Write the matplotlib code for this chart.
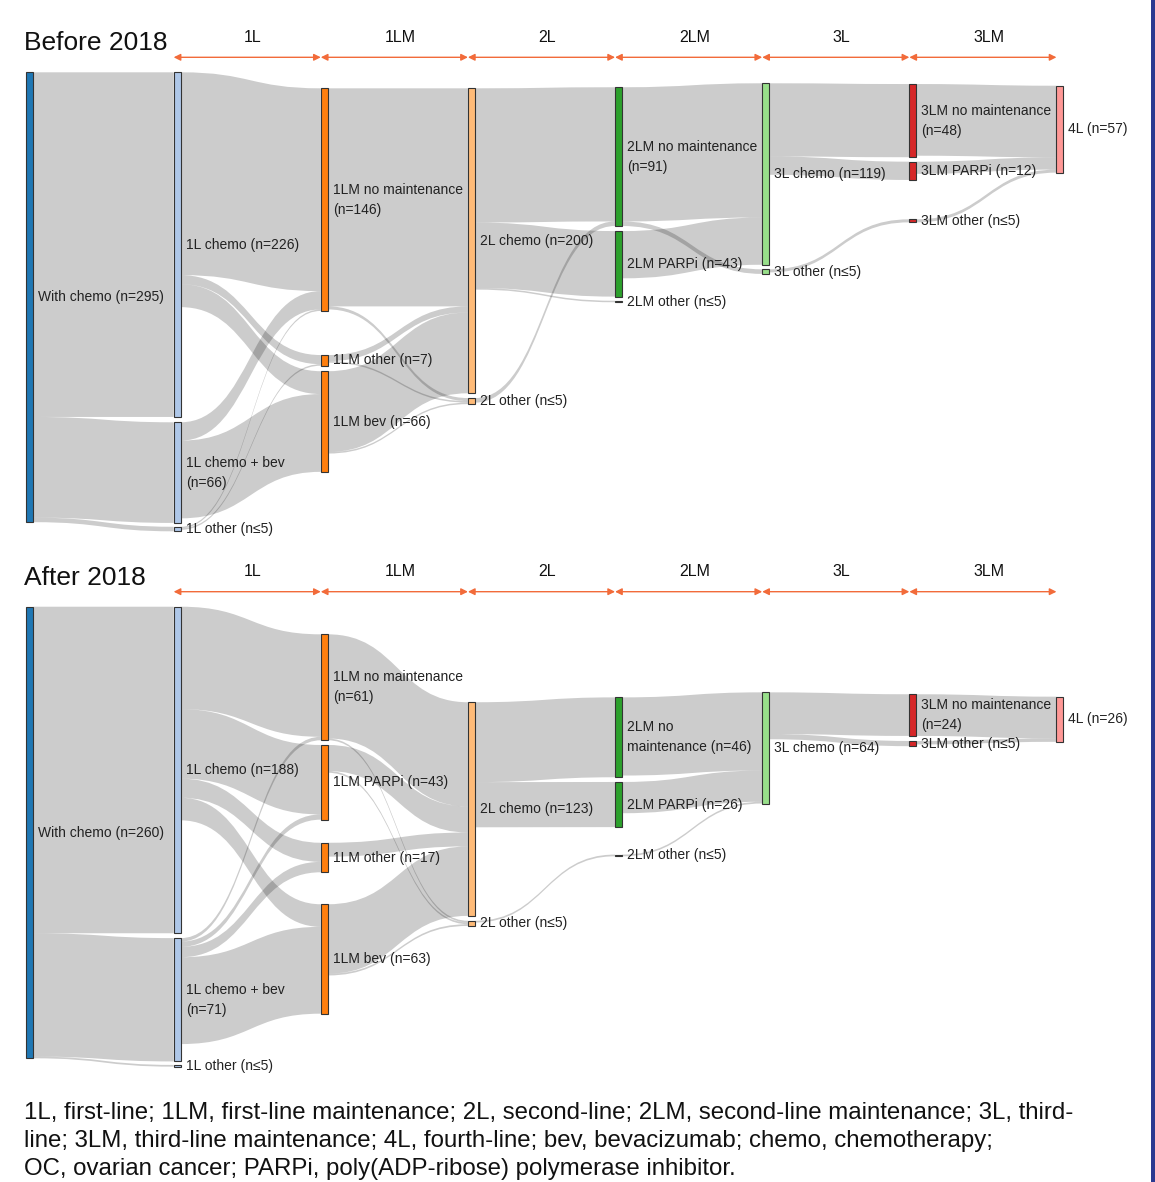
import matplotlib
matplotlib.use("Agg")
import matplotlib.pyplot as plt
from matplotlib.path import Path
from matplotlib.patches import PathPatch, Rectangle

W, H = 1155, 1182

# columns / header text
col_colors = ['#1f77b4', '#aec7e8', '#ff7f0e', '#ffbb78', '#2ca02c', '#98df8a', '#d62728', '#ff9896']
stage_labels = ['1L', '1LM', '2L', '2LM', '3L', '3LM']

# ---- Before 2018 ----
before_labels = ["With chemo (n=295)", "1L chemo (n=226)", "1L chemo + bev\n(n=66)", "1L other (n≤5)",
                 "1LM no maintenance\n(n=146)", "1LM other (n=7)", "1LM bev (n=66)",
                 "2L chemo (n=200)", "2L other (n≤5)",
                 "2LM no maintenance\n(n=91)", "2LM PARPi (n=43)", "2LM other (n≤5)",
                 "3L chemo (n=119)", "3L other (n≤5)",
                 "3LM no maintenance\n(n=48)", "3LM PARPi (n=12)", "3LM other (n≤5)",
                 "4L (n=57)"]
before_cols = [0, 1, 1, 1, 2, 2, 2, 3, 3, 4, 4, 4, 5, 5, 6, 6, 6, 7]
before_src = [0, 0, 0, 1, 1, 1, 2, 2, 3, 3, 4, 4, 5, 5, 6, 6, 7, 7, 7, 8, 9, 9, 10, 12, 12, 13, 14, 15, 16]
before_tgt = [1, 2, 3, 4, 5, 6, 4, 6, 4, 5, 7, 8, 7, 8, 7, 8, 9, 10, 11, 9, 12, 13, 12, 14, 15, 16, 17, 17, 17]
before_val = [226, 66, 3, 133, 6, 15, 12, 51, 1, 1, 143, 2, 4, 1, 53, 1, 88, 43, 1, 3, 88, 3, 31, 48, 12, 2, 47, 8, 2]
# node tops (layout, in patients from top of panel)
before_tops = [0, 0, 229.5, 298, 10.5, 185.4, 196, 10.5, 213.6, 9.8, 104.1, 149.8, 7.2, 129.2, 7.7, 58.6, 96.4, 8.8]

# ---- After 2018 ----
after_labels = ["With chemo (n=260)", "1L chemo (n=188)", "1L chemo + bev\n(n=71)", "1L other (n≤5)",
                "1LM no maintenance\n(n=61)", "1LM PARPi (n=43)", "1LM other (n=17)", "1LM bev (n=63)",
                "2L chemo (n=123)", "2L other (n≤5)",
                "2LM no\nmaintenance (n=46)", "2LM PARPi (n=26)", "2LM other (n≤5)",
                "3L chemo (n=64)",
                "3LM no maintenance\n(n=24)", "3LM other (n≤5)",
                "4L (n=26)"]
after_cols = [0, 1, 1, 1, 2, 2, 2, 2, 3, 3, 4, 4, 4, 5, 6, 6, 7]
after_src = [0, 0, 0, 1, 1, 1, 1, 2, 2, 2, 2, 4, 4, 5, 5, 6, 7, 7, 8, 8, 9, 10, 11, 12, 13, 13, 14, 15]
after_tgt = [1, 2, 3, 4, 5, 6, 7, 4, 5, 6, 7, 8, 9, 8, 9, 8, 8, 9, 10, 11, 12, 13, 13, 13, 14, 15, 16, 16]
after_val = [188, 71, 1, 59, 40, 11, 13, 2, 3, 6, 50, 60, 1, 15, 1, 8, 40, 1, 46, 26, 1, 45, 18, 1, 24, 3, 24, 2]
after_tops = [0, 0, 190.8, 263.8, 15.9, 79.6, 135.9, 171.3, 55.0, 180.8, 52.2, 100.9, 142.7, 49.3, 50.4, 77.3, 51.8]

footnote = ["1L, first-line; 1LM, first-line maintenance; 2L, second-line; 2LM, second-line maintenance; 3L, third-",
            "line; 3LM, third-line maintenance; 4L, fourth-line; bev, bevacizumab; chemo, chemotherapy;",
            "OC, ovarian cancer; PARPi, poly(ADP-ribose) polymerase inhibitor."]

COL_PX = 147.14   # pixels between columns
X0_PX = 30        # pixel x of first column
NODE_W = 7 / COL_PX
FONT = ['Liberation Sans', 'DejaVu Sans']
ARROW_C = '#f26b3a'


def draw_sankey(ax, labels, cols, tops, src, tgt, val, scale, title):
    n = len(labels)
    inflow = [0] * n
    outflow = [0] * n
    for s, t, v in zip(src, tgt, val):
        outflow[s] += v
        inflow[t] += v
    size = [max(a, b) for a, b in zip(inflow, outflow)]

    # links, stacked in node order on both sides
    out_off = [0.0] * n
    in_off = [0.0] * n
    order = sorted(range(len(src)), key=lambda i: (src[i], tops[tgt[i]]))
    start = {}
    for i in order:
        start[i] = tops[src[i]] + out_off[src[i]]
        out_off[src[i]] += val[i]
    order = sorted(range(len(src)), key=lambda i: (tgt[i], tops[src[i]]))
    end = {}
    for i in order:
        end[i] = tops[tgt[i]] + in_off[tgt[i]]
        in_off[tgt[i]] += val[i]

    for i in range(len(src)):
        x0 = cols[src[i]] + NODE_W / 2
        x1 = cols[tgt[i]] - NODE_W / 2
        xm = (x0 + x1) / 2
        y0, y1, v = start[i], end[i], val[i]
        verts = [(x0, y0), (xm, y0), (xm, y1), (x1, y1),
                 (x1, y1 + v), (xm, y1 + v), (xm, y0 + v), (x0, y0 + v), (x0, y0)]
        codes = [Path.MOVETO, Path.CURVE4, Path.CURVE4, Path.CURVE4,
                 Path.LINETO, Path.CURVE4, Path.CURVE4, Path.CURVE4, Path.CLOSEPOLY]
        ax.add_patch(PathPatch(Path(verts, codes), facecolor=(0, 0, 0, 0.2), edgecolor='none', zorder=1))

    for k in range(n):
        c = cols[k]
        ax.add_patch(Rectangle((c - NODE_W / 2, tops[k]), NODE_W, size[k], facecolor=col_colors[c],
                               edgecolor='#333333', linewidth=0.8, zorder=2))
        ax.text(c + NODE_W / 2 + 5 / COL_PX, tops[k] + size[k] / 2, labels[k], ha='left', va='center',
                fontsize=10, family=FONT, color='#222222', linespacing=1.55, zorder=3)

    # header: stage arrows and labels (offsets in pixels above the first node)
    y_arrow = -15 / scale
    y_head = -35 / scale
    for i, lab in enumerate(stage_labels):
        a, b = i + 1 - NODE_W / 2, i + 2 - NODE_W / 2
        ax.annotate('', xy=(b, y_arrow), xytext=(a, y_arrow),
                    arrowprops=dict(arrowstyle='<|-|>', color=ARROW_C, lw=1.0,
                                    mutation_scale=10, shrinkA=0, shrinkB=0))
        ax.text((a + b) / 2 + 0.04, y_head, lab, ha='center', va='center', fontsize=11.5,
                family=FONT, color='#111111')
    ax.text(-6 / COL_PX, -29 / scale, title, ha='left', va='center', fontsize=19,
            family=FONT, color='#111111')


fig = plt.figure(figsize=(W / 100, H / 100), dpi=100)

panels = [
    (before_labels, before_cols, before_tops, before_src, before_tgt, before_val, 1.525, 72.3, 0, 550, 'Before 2018'),
    (after_labels, after_cols, after_tops, after_src, after_tgt, after_val, 1.737, 606.7, 550, 1085, 'After 2018'),
]
for labels, cols, tops, src, tgt, val, scale, y0px, top_px, bot_px, title in panels:
    ax = fig.add_axes([0, 1 - bot_px / H, 1, (bot_px - top_px) / H])
    ax.set_xlim(-X0_PX / COL_PX, (W - X0_PX) / COL_PX)
    ax.set_ylim((bot_px - y0px) / scale, (top_px - y0px) / scale)
    ax.axis('off')
    draw_sankey(ax, labels, cols, tops, src, tgt, val, scale, title)

for i, line in enumerate(footnote):
    fig.text(24 / W, 1 - (1113 + 28 * i) / H, line, ha='left', va='center', fontsize=17.3,
             family=FONT, color='#111111')

# navy border on the right edge
fig.add_artist(Rectangle((1150.5 / W, 0), 4.5 / W, 1, transform=fig.transFigure,
                         facecolor='#2b3990', edgecolor='none'))

fig.savefig('out.png', dpi=100, facecolor='white')
